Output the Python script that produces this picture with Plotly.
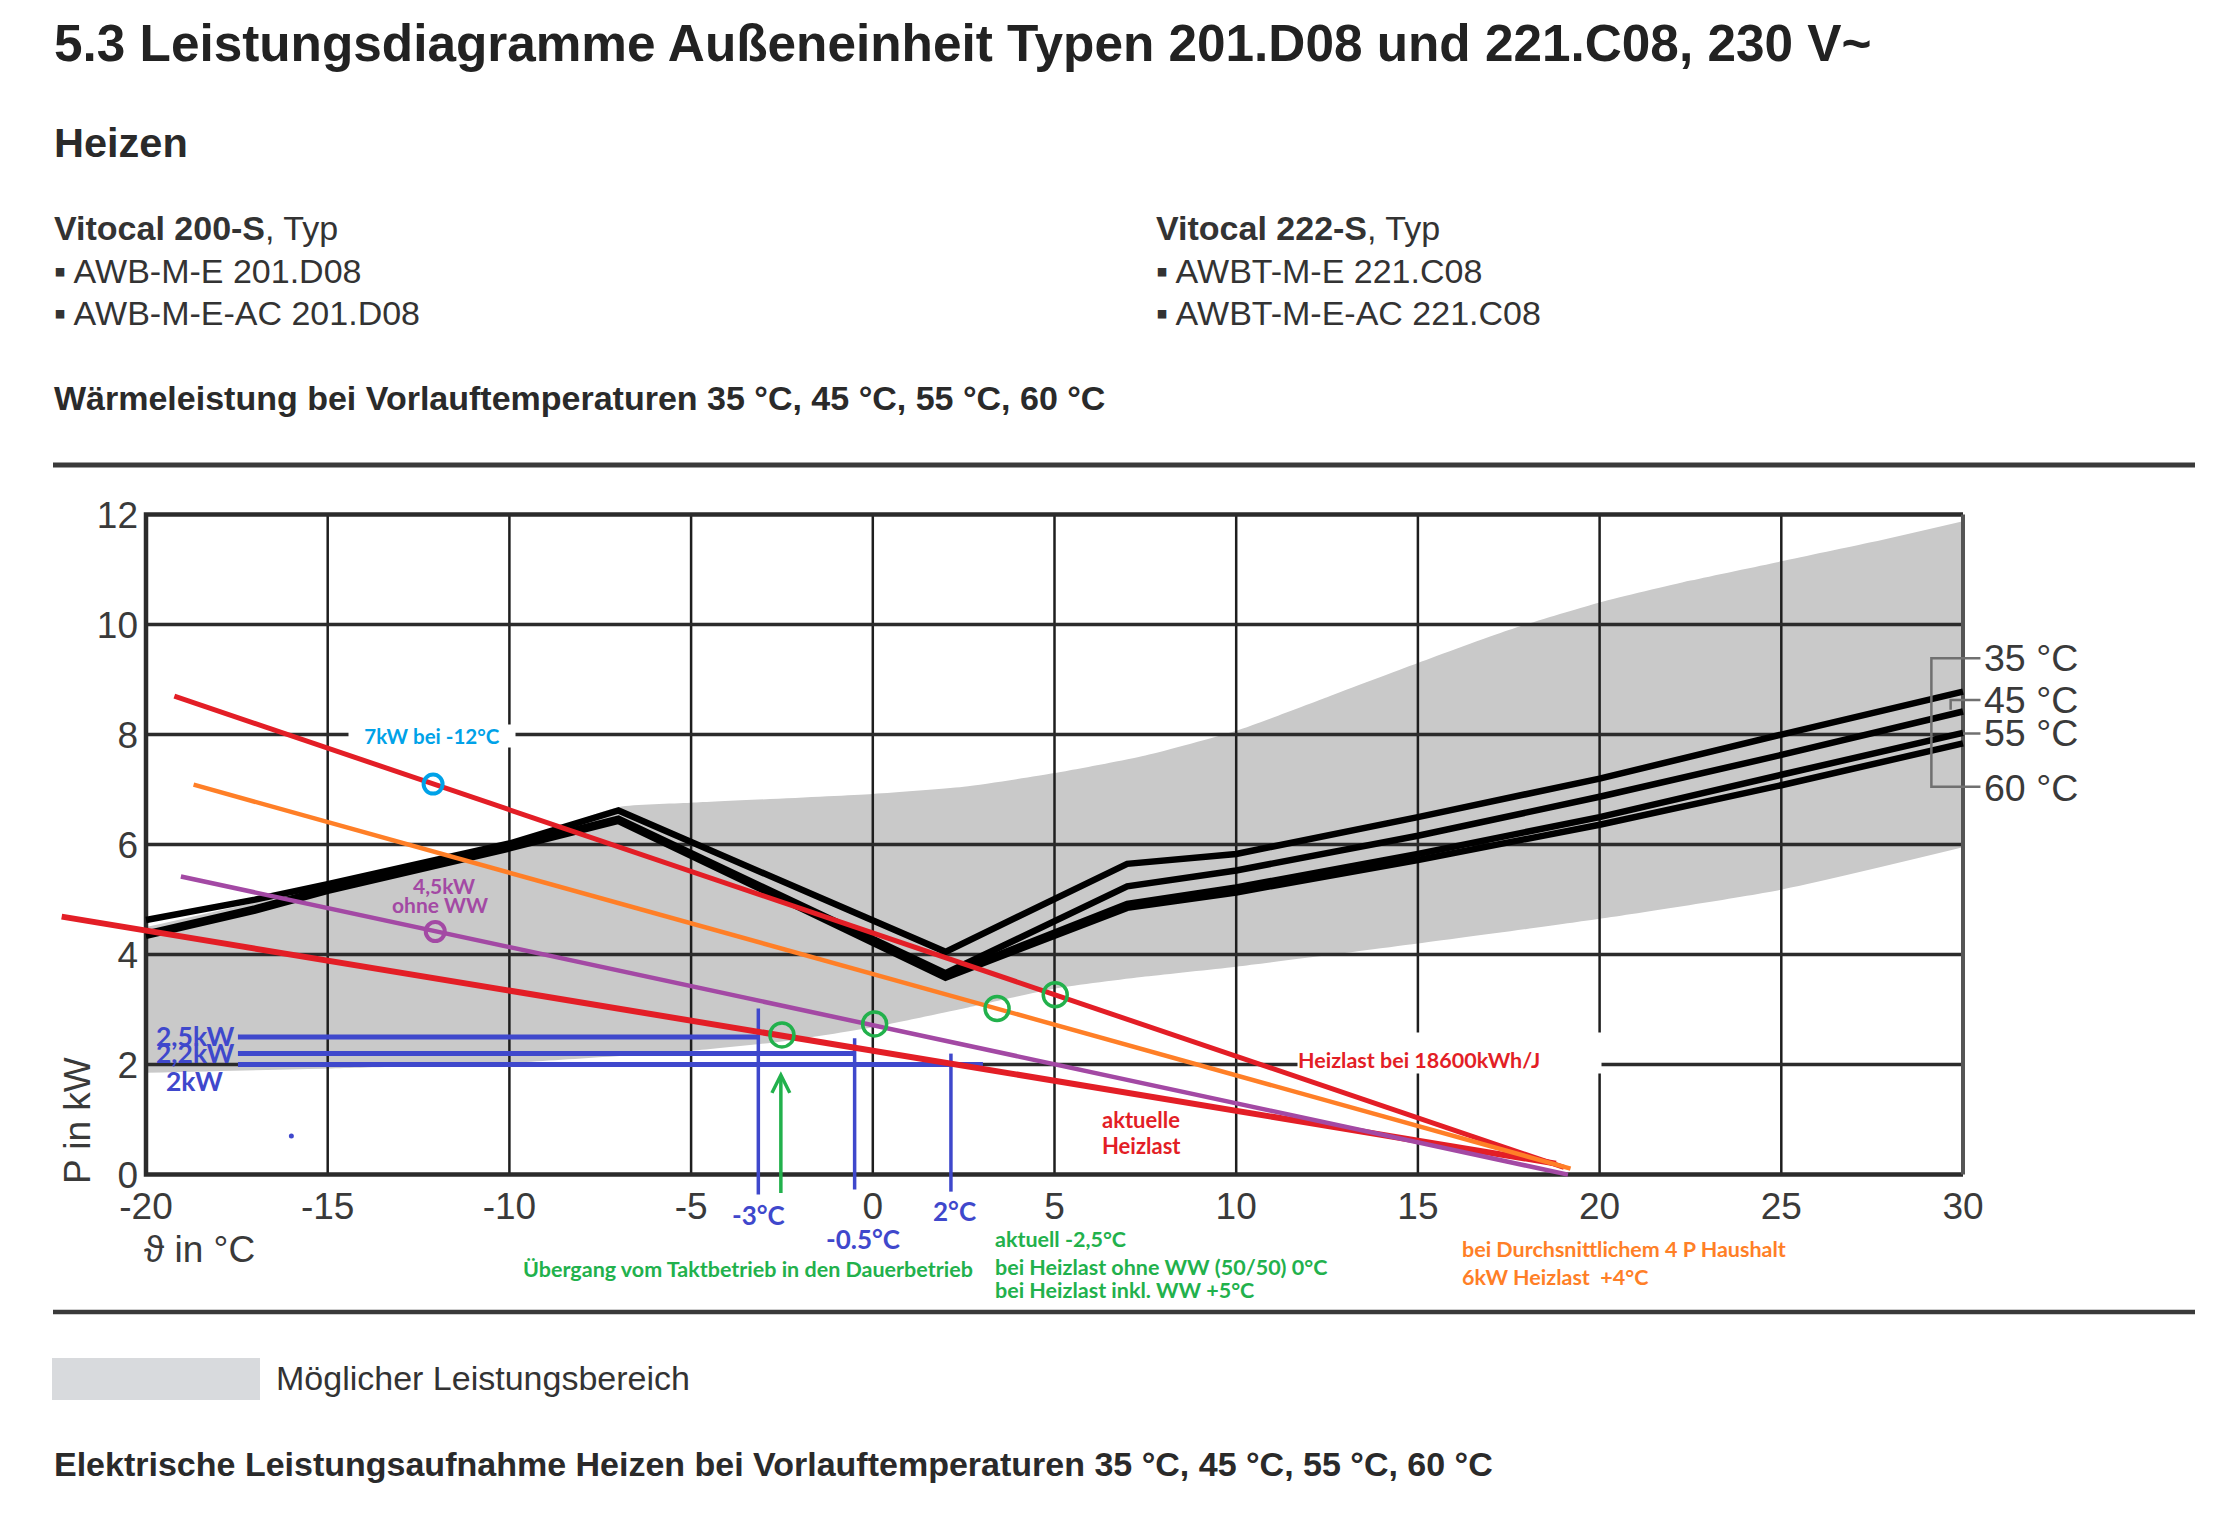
import plotly.graph_objects as go

# ---------------- data ----------------
temp_ticks = [-20, -15, -10, -5, 0, 5, 10, 15, 20, 25, 30]
temp_tick_text = ["-20", "-15", "-10", "-5", "0", "5", "10", "15", "20", "25", "30"]
power_ticks = [0, 2, 4, 6, 8, 10, 12]
power_tick_text = ["0", "2", "4", "6", "8", "10", "12"]

curve_temps = [-20, -17, -15, -10, -7, 2, 7, 10, 15, 20, 25, 30]
p_35 = [4.63, 5.00, 5.28, 6.02, 6.62, 4.05, 5.65, 5.83, 6.50, 7.20, 8.00, 8.78]
p_45 = [4.38, 4.84, 5.20, 5.97, 6.47, 3.66, 5.24, 5.53, 6.16, 6.87, 7.63, 8.42]
p_55 = [4.36, 4.82, 5.18, 5.95, 6.45, 3.62, 4.92, 5.22, 5.83, 6.50, 7.27, 8.03]
p_60 = [4.34, 4.80, 5.16, 5.93, 6.43, 3.58, 4.85, 5.13, 5.72, 6.36, 7.08, 7.84]
flow_labels = ["35 °C", "45 °C", "55 °C", "60 °C"]

band_upper_t = [-20, -15, -10, -7, -5, 0, 2.5, 5, 7.5, 10, 12.5, 15, 17.5, 20, 22.5, 25, 27.5, 30]
band_upper_p = [4.50, 5.25, 6.00, 6.68, 6.76, 6.92, 7.05, 7.30, 7.62, 8.07, 8.68, 9.30, 9.90, 10.40, 10.80, 11.15, 11.50, 11.88]
band_lower_t = [-20, -15, -10, -5, -2.5, 0, 2.5, 5, 7.5, 10, 15, 20, 25, 30]
band_lower_p = [1.85, 1.93, 2.03, 2.25, 2.42, 2.68, 3.02, 3.38, 3.60, 3.78, 4.20, 4.65, 5.18, 5.95]

heizlast_18600_t = [-19.22, 19.02]
heizlast_18600_p = [8.70, 0.13]
haushalt_4p_t = [-18.69, 19.20]
haushalt_4p_p = [7.09, 0.11]
ohne_ww_t = [-19.04, 19.13]
ohne_ww_p = [5.42, 0.00]
aktuell_t = [-22.32, 18.80]
aktuell_p = [4.69, 0.20]

blue_levels_kw = [2.5, 2.2, 2.0]
blue_level_labels = ["2,5kW", "2,2kW", "2kW"]
blue_level_start_t = -17.47
blue_level_end_t = [-3.15, -0.5, 3.03]
blue_temps = [-3.15, -0.5, 2.15]
blue_temp_labels = ["-3°C", "-0.5°C", "2°C"]
blue_temp_top_kw = [3.02, 2.48, 2.20]
blue_temp_bottom_kw = [-0.36, -0.27, -0.31]

transition_t = [-2.5, 0.05, 3.42, 5.02]
transition_p = [2.54, 2.74, 3.02, 3.27]
point_7kw_t, point_7kw_p = [-12.1], [7.10]
point_45kw_t, point_45kw_p = [-12.04], [4.42]
stray_dot_t, stray_dot_p = [-16.0], [0.70]
arrow_t, arrow_from_kw, arrow_to_kw = -2.53, -0.36, 1.88

# ---------------- styling / geometry (page pixels) ----------------
OFF = 8                                  # default body margin of the html page
W, H = 2235 - 2 * OFF, 1533 - 2 * OFF
PLOT_L, PLOT_R, PLOT_T, PLOT_B = 50, 2000, 495, 1205   # page pixels of the plotting area
ML, MR, MT, MB = PLOT_L - OFF, W - (PLOT_R - OFF), PLOT_T - OFF, H - (PLOT_B - OFF)
PX_XMIN, PX_XMAX = 146.0, 1963.0     # page pixel of -20 and 30
PX_YMAX, PX_YMIN = 514.6, 1174.6     # page pixel of 12 and 0
ppd = (PX_XMAX - PX_XMIN) / (temp_ticks[-1] - temp_ticks[0])
ppk = (PX_YMIN - PX_YMAX) / (power_ticks[-1] - power_ticks[0])
x_range = [temp_ticks[0] - (PX_XMIN - PLOT_L) / ppd, temp_ticks[-1] + (PLOT_R - PX_XMAX) / ppd]
y_range = [power_ticks[0] - (PLOT_B - PX_YMIN) / ppk, power_ticks[-1] + (PX_YMAX - PLOT_T) / ppk]
PW, PH = PLOT_R - PLOT_L, PLOT_B - PLOT_T


def paper(px, py):
    return (px - PLOT_L) / PW, (PLOT_B - py) / PH


RED = "#E31E26"
ORANGE = "#FF7F27"
PURPLE = "#A349A4"
BLUE = "#3F48CC"
GREEN = "#22B14C"
CYAN = "#00A2E8"
GRID = "#2b2b2b"
TXT = "#333333"
ANN_FONT = "Lato"
SANS = "Liberation Sans, Arial, sans-serif"

fig = go.Figure()

# possible output range (grey band)
fig.add_trace(go.Scatter(x=band_lower_t, y=band_lower_p, mode="lines",
                         line=dict(width=0, shape="spline", smoothing=0.6),
                         hoverinfo="skip", showlegend=False))
fig.add_trace(go.Scatter(x=band_upper_t, y=band_upper_p, mode="lines", fill="tonexty",
                         fillcolor="#c9c9c9", line=dict(width=0, shape="spline", smoothing=0.6),
                         hoverinfo="skip", showlegend=False))

# grid lines
vx, vy = [], []
for t in temp_ticks[1:-1]:
    vx += [t, t, None]
    vy += [power_ticks[0], power_ticks[-1], None]
fig.add_trace(go.Scatter(x=vx, y=vy, mode="lines", line=dict(color="#1e1e1e", width=2.5),
                         hoverinfo="skip", showlegend=False))
hx, hy = [], []
for p in power_ticks[1:-1]:
    hx += [temp_ticks[0], temp_ticks[-1], None]
    hy += [p, p, None]
fig.add_trace(go.Scatter(x=hx, y=hy, mode="lines", line=dict(color=GRID, width=3.5),
                         hoverinfo="skip", showlegend=False))
fig.add_trace(go.Scatter(
    x=[temp_ticks[-1], temp_ticks[0], temp_ticks[0], temp_ticks[-1]],
    y=[power_ticks[-1], power_ticks[-1], power_ticks[0], power_ticks[0]],
    mode="lines", line=dict(color=GRID, width=4.5), hoverinfo="skip", showlegend=False))
fig.add_trace(go.Scatter(
    x=[temp_ticks[-1], temp_ticks[-1]], y=[power_ticks[0], power_ticks[-1]],
    mode="lines", line=dict(color="#555555", width=4), hoverinfo="skip", showlegend=False))

# heat output curves
for name, vals in zip(flow_labels, [p_35, p_45, p_55, p_60]):
    fig.add_trace(go.Scatter(x=curve_temps, y=vals, mode="lines", name=name,
                             line=dict(color="#000000", width=6.5), showlegend=False))

# blue helper lines
bx, by = [], []
for lvl, end in zip(blue_levels_kw, blue_level_end_t):
    bx += [blue_level_start_t, end, None]
    by += [lvl, lvl, None]
fig.add_trace(go.Scatter(x=bx, y=by, mode="lines", line=dict(color=BLUE, width=5),
                         hoverinfo="skip", showlegend=False))
bvx, bvy = [], []
for t, top, bot in zip(blue_temps, blue_temp_top_kw, blue_temp_bottom_kw):
    bvx += [t, t, None]
    bvy += [top, bot, None]
fig.add_trace(go.Scatter(x=bvx, y=bvy, mode="lines", line=dict(color=BLUE, width=3.5),
                         hoverinfo="skip", showlegend=False))
fig.add_trace(go.Scatter(x=stray_dot_t, y=stray_dot_p, mode="markers",
                         marker=dict(color=BLUE, size=5), hoverinfo="skip", showlegend=False))

# heat load lines
fig.add_trace(go.Scatter(x=aktuell_t, y=aktuell_p, mode="lines", line=dict(color=RED, width=6),
                         showlegend=False))
fig.add_trace(go.Scatter(x=ohne_ww_t, y=ohne_ww_p, mode="lines", line=dict(color=PURPLE, width=4.5),
                         showlegend=False))
fig.add_trace(go.Scatter(x=heizlast_18600_t, y=heizlast_18600_p, mode="lines",
                         line=dict(color=RED, width=5), showlegend=False))
fig.add_trace(go.Scatter(x=haushalt_4p_t, y=haushalt_4p_p, mode="lines",
                         line=dict(color=ORANGE, width=4.5), showlegend=False))

# markers
fig.add_trace(go.Scatter(x=transition_t, y=transition_p, mode="markers",
                         marker=dict(symbol="circle-open", size=24, color=GREEN, line=dict(width=3.5)),
                         showlegend=False))
fig.add_trace(go.Scatter(x=point_7kw_t, y=point_7kw_p, mode="markers",
                         marker=dict(symbol="circle-open", size=19, color=CYAN, line=dict(width=4)),
                         showlegend=False))
fig.add_trace(go.Scatter(x=point_45kw_t, y=point_45kw_p, mode="markers",
                         marker=dict(symbol="circle-open", size=19, color=PURPLE, line=dict(width=4)),
                         showlegend=False))

ann = []


def dtext(x, y, text, color, size, xanchor="center", family=ANN_FONT, **kw):
    d = dict(x=x, y=y, xref="x", yref="y", text=text, showarrow=False, xanchor=xanchor,
             yanchor="middle", font=dict(family=family, size=size, color=color), borderpad=0)
    d.update(kw)
    ann.append(d)


def ptext(px, py, text, size, color=TXT, family=SANS, xanchor="left", **kw):
    x, y = paper(px, py)
    d = dict(x=x, y=y, xref="paper", yref="paper", text=text, showarrow=False, xanchor=xanchor,
             yanchor="middle", font=dict(family=family, size=size, color=color), borderpad=0)
    d.update(kw)
    ann.append(d)


# chart annotations
dtext(-12.12, 7.98, "<b>7kW bei -12°C</b>", CYAN, 20.5, bgcolor="white", width=166, height=22)
dtext(-11.81, 5.25, "<b>4,5kW</b>", PURPLE, 21)
dtext(-11.9, 4.91, "<b>ohne WW</b>", PURPLE, 21)
dtext(15.86, 2.22, "<b>Heizlast bei 18600kWh/J</b>", RED, 21.5, bgcolor="white",
      width=303, height=40, align="left", valign="bottom")
dtext(7.39, 1.01, "<b>aktuelle</b>", RED, 22)
dtext(7.39, 0.53, "<b>Heizlast</b>", RED, 22)
for lab, yy in zip(blue_level_labels, [2.52, 2.22, 1.70]):
    dtext(-18.66, yy, "<b>" + lab + "</b>", BLUE, 26.5)

# labels below the temperature axis (page pixels)
for lab, (px, py) in zip(blue_temp_labels, [(758, 1215), (863, 1239), (954, 1211)]):
    ptext(px, py, "<b>" + lab + "</b>", 26, color=BLUE, family=ANN_FONT, xanchor="center")
ptext(747.5, 1269, "<b>Übergang vom Taktbetrieb in den Dauerbetrieb</b>", 21.5, color=GREEN,
      family=ANN_FONT, xanchor="center")
ptext(994, 1238.5, "<b>aktuell -2,5°C</b>", 21.5, color=GREEN, family=ANN_FONT)
ptext(994, 1266.5, "<b>bei Heizlast ohne WW (50/50) 0°C</b>", 21.5, color=GREEN, family=ANN_FONT)
ptext(994, 1290, "<b>bei Heizlast inkl. WW +5°C</b>", 21.5, color=GREEN, family=ANN_FONT)
ptext(1461, 1249, "<b>bei Durchsnittlichem 4 P Haushalt</b>", 21.5, color=ORANGE, family=ANN_FONT)
ptext(1461, 1276.5, "<b>6kW Heizlast  +4°C</b>", 21.5, color=ORANGE, family=ANN_FONT)

# green arrow
ann.append(dict(x=arrow_t, y=arrow_to_kw, ax=arrow_t, ay=arrow_from_kw, xref="x", yref="y",
                axref="x", ayref="y", showarrow=True, arrowhead=5, arrowsize=1,
                arrowwidth=3.5, arrowcolor=GREEN, text=""))

# flow temperature labels
for lab, yy in zip(flow_labels, [9.39, 8.63, 8.03, 7.03]):
    dtext(30.56, yy, lab, "#3a3a3a", 37.5, xanchor="left", family=SANS)

# axis titles
ptext(77, 1121, "P in kW", 37, color="#3a3a3a", xanchor="center", textangle=-90)
ptext(199, 1249, "ϑ in °C", 37, color="#3a3a3a", xanchor="center")

# header / footer texts
ptext(53, 44, "<b>5.3 Leistungsdiagramme Außeneinheit Typen 201.D08 und 221.C08, 230 V~</b>", 51.3, color="#222222")
ptext(53, 142, "<b>Heizen</b>", 41.5, color="#2a2a2a")
ptext(53, 228, "<b>Vitocal 200-S</b>, Typ", 34)
ptext(53, 271, "▪ AWB-M-E 201.D08", 34)
ptext(53, 313, "▪ AWB-M-E-AC 201.D08", 34)
ptext(1155, 228, "<b>Vitocal 222-S</b>, Typ", 34)
ptext(1155, 271, "▪ AWBT-M-E 221.C08", 34)
ptext(1155, 313, "▪ AWBT-M-E-AC 221.C08", 34)
ptext(53, 398, "<b>Wärmeleistung bei Vorlauftemperaturen 35 °C, 45 °C, 55 °C, 60 °C</b>", 34, color="#2a2a2a")
ptext(275, 1378, "Möglicher Leistungsbereich", 34)
ptext(53, 1464, "<b>Elektrische Leistungsaufnahme Heizen bei Vorlauftemperaturen 35 °C, 45 °C, 55 °C, 60 °C</b>", 34, color="#2a2a2a")

# shapes: rules, legend swatch, label brackets
shapes = []
x0, y0 = paper(53, 465)
x1, _ = paper(2195, 465)
shapes.append(dict(type="line", xref="paper", yref="paper", x0=x0, x1=x1, y0=y0, y1=y0,
                   line=dict(color="#3a3a3a", width=5)))
x0, y0 = paper(53, 1312)
shapes.append(dict(type="line", xref="paper", yref="paper", x0=x0, x1=x1, y0=y0, y1=y0,
                   line=dict(color="#3a3a3a", width=4.5)))
sx0, sy0 = paper(52, 1400)
sx1, sy1 = paper(260, 1358)
shapes.append(dict(type="rect", xref="paper", yref="paper", x0=sx0, x1=sx1, y0=sy0, y1=sy1,
                   fillcolor="#d8dadd", line=dict(width=0)))
shapes.append(dict(type="path", xref="x", yref="y",
                   path="M 30.48 9.39 L 29.13 9.39 L 29.13 7.05 L 30.48 7.05",
                   line=dict(color="#707070", width=2.5)))
shapes.append(dict(type="path", xref="x", yref="y",
                   path="M 30.48 8.63 L 29.66 8.63 L 29.66 8.45",
                   line=dict(color="#707070", width=2.5)))
shapes.append(dict(type="path", xref="x", yref="y",
                   path="M 30.0 8.02 L 30.48 8.02",
                   line=dict(color="#707070", width=2.5)))

fig.update_layout(
    width=W, height=H,
    margin=dict(l=ML, r=MR, t=MT, b=MB, pad=0),
    paper_bgcolor="white", plot_bgcolor="rgba(0,0,0,0)",
    showlegend=False,
    annotations=ann, shapes=shapes,
    xaxis=dict(range=x_range, tickvals=temp_ticks, ticktext=temp_tick_text,
               showgrid=False, zeroline=False, showline=False, ticks="",
               anchor="free", position=paper(0, PX_YMIN)[1],
               tickfont=dict(family=SANS, size=37, color="#3a3a3a"),
               ticklabelstandoff=6, fixedrange=True),
    yaxis=dict(range=y_range, tickvals=power_ticks, ticktext=power_tick_text,
               showgrid=False, zeroline=False, showline=False, ticks="",
               anchor="free", position=paper(PX_XMIN, 0)[0],
               tickfont=dict(family=SANS, size=37, color="#3a3a3a"),
               ticklabelstandoff=8, fixedrange=True),
)

fig.write_html("out.html")
